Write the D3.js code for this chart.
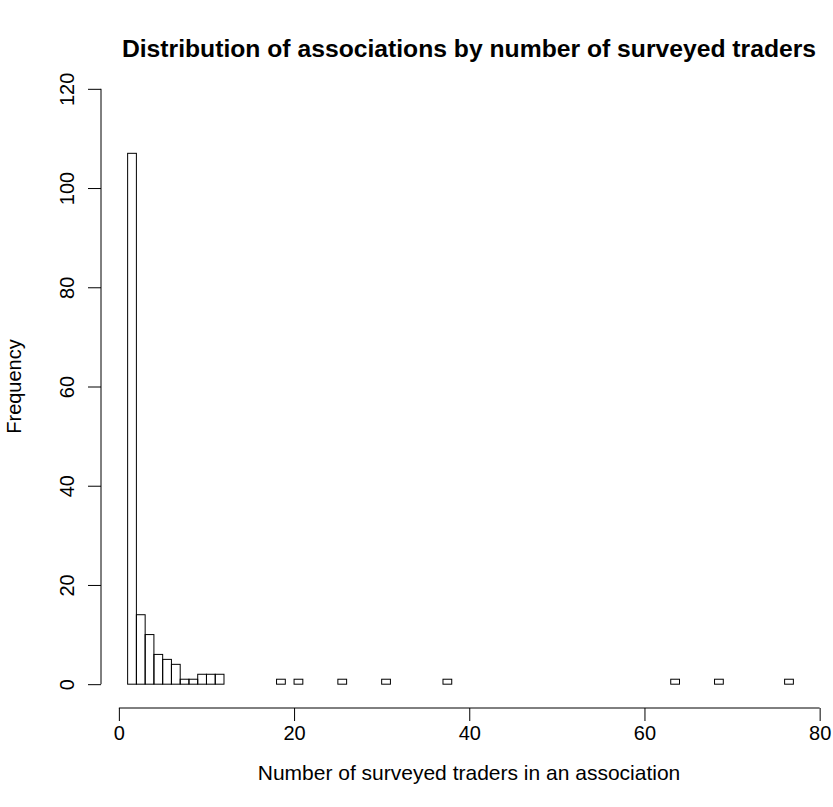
<!DOCTYPE html>
<html>
<head>
<meta charset="utf-8">
<script src="https://cdn.jsdelivr.net/npm/d3@7"></script>
<style>
  body { margin: 0; background: #fff; }
  svg { display: block; font-family: "Liberation Sans", Arial, sans-serif; }
</style>
</head>
<body>
<div id="chart"></div>
<script>
// Histogram data: bins of width 1 from 1 to 77
const breaks = [1, 2, 3, 4, 5, 6, 7, 8, 9, 10, 11, 12, 13, 14, 15, 16, 17, 18, 19, 20,
  21, 22, 23, 24, 25, 26, 27, 28, 29, 30, 31, 32, 33, 34, 35, 36, 37, 38, 39, 40,
  41, 42, 43, 44, 45, 46, 47, 48, 49, 50, 51, 52, 53, 54, 55, 56, 57, 58, 59, 60,
  61, 62, 63, 64, 65, 66, 67, 68, 69, 70, 71, 72, 73, 74, 75, 76, 77];
const counts = [107, 14, 10, 6, 5, 4, 1, 1, 2, 2, 2, 0, 0, 0, 0, 0, 0, 1, 0, 1,
  0, 0, 0, 0, 1, 0, 0, 0, 0, 1, 0, 0, 0, 0, 0, 0, 1, 0, 0, 0,
  0, 0, 0, 0, 0, 0, 0, 0, 0, 0, 0, 0, 0, 0, 0, 0, 0, 0, 0, 0,
  0, 0, 1, 0, 0, 0, 0, 1, 0, 0, 0, 0, 0, 0, 0, 1];
const xTicks = [0, 20, 40, 60, 80];
const yTicks = [0, 20, 40, 60, 80, 100, 120];

const title = "Distribution of associations by number of surveyed traders";
const xLabel = "Number of surveyed traders in an association";
const yLabel = "Frequency";

const bins = counts.map((c, i) => ({ x0: breaks[i], x1: breaks[i + 1], count: c }));

const width = 833;
const height = 807;
const fontSize = 20;

// plot region (R style: usr extends 4% beyond the data range)
const plot = { left: 101, right: 820, top: 65, bottom: 708 };

const x = d3.scaleLinear()
    .domain([1 - 0.04 * 76, 77 + 0.04 * 76])
    .range([plot.left, plot.right]);

const y = d3.scaleLinear()
    .domain([-0.04 * 120, 120 * 1.04])
    .range([plot.bottom, plot.top]);

const svg = d3.select("#chart").append("svg")
    .attr("width", width)
    .attr("height", height)
    .attr("viewBox", [0, 0, width, height]);

// bars
svg.append("g")
    .selectAll("rect")
    .data(bins)
    .join("rect")
    .attr("x", d => x(d.x0))
    .attr("y", d => y(d.count))
    .attr("width", d => x(d.x1) - x(d.x0))
    .attr("height", d => y(0) - y(d.count))
    .attr("fill", "none")
    .attr("stroke", "#000")
    .attr("stroke-width", 1);

// x axis
const xAxis = svg.append("g")
    .attr("transform", `translate(0,${plot.bottom})`)
    .call(d3.axisBottom(x).tickValues(xTicks).tickSize(13).tickSizeOuter(0));
xAxis.select(".domain").attr("d", `M${x(xTicks[0])},0H${x(xTicks[xTicks.length - 1])}`);
xAxis.selectAll("text")
    .attr("font-size", fontSize)
    .attr("font-family", null)
    .attr("y", 25)
    .attr("dy", "0.35em");

// y axis
const yAxis = svg.append("g")
    .attr("transform", `translate(${plot.left},0)`)
    .call(d3.axisLeft(y).tickValues(yTicks).tickSize(13).tickSizeOuter(0));
yAxis.select(".domain").attr("d", `M0,${y(0)}V${y(120)}`);
yAxis.selectAll("text")
    .attr("font-size", fontSize)
    .attr("font-family", null)
    .attr("text-anchor", "middle")
    .attr("dy", "0.35em")
    .attr("transform", `translate(${67 - plot.left},0) rotate(-90)`)
    .attr("x", 0)
    .attr("y", 0);

// titles
const cx = 469;
svg.append("text")
    .attr("x", cx)
    .attr("y", 48)
    .attr("dy", "0.35em")
    .attr("text-anchor", "middle")
    .attr("font-weight", "bold")
    .attr("font-size", 24.7)
    .text(title);

svg.append("text")
    .attr("x", cx)
    .attr("y", 773)
    .attr("dy", "0.35em")
    .attr("text-anchor", "middle")
    .attr("font-size", 21)
    .text(xLabel);

svg.append("text")
    .attr("transform", `translate(14,${(plot.top + plot.bottom) / 2}) rotate(-90)`)
    .attr("dy", "0.35em")
    .attr("text-anchor", "middle")
    .attr("font-size", fontSize)
    .text(yLabel);
</script>
</body>
</html>
